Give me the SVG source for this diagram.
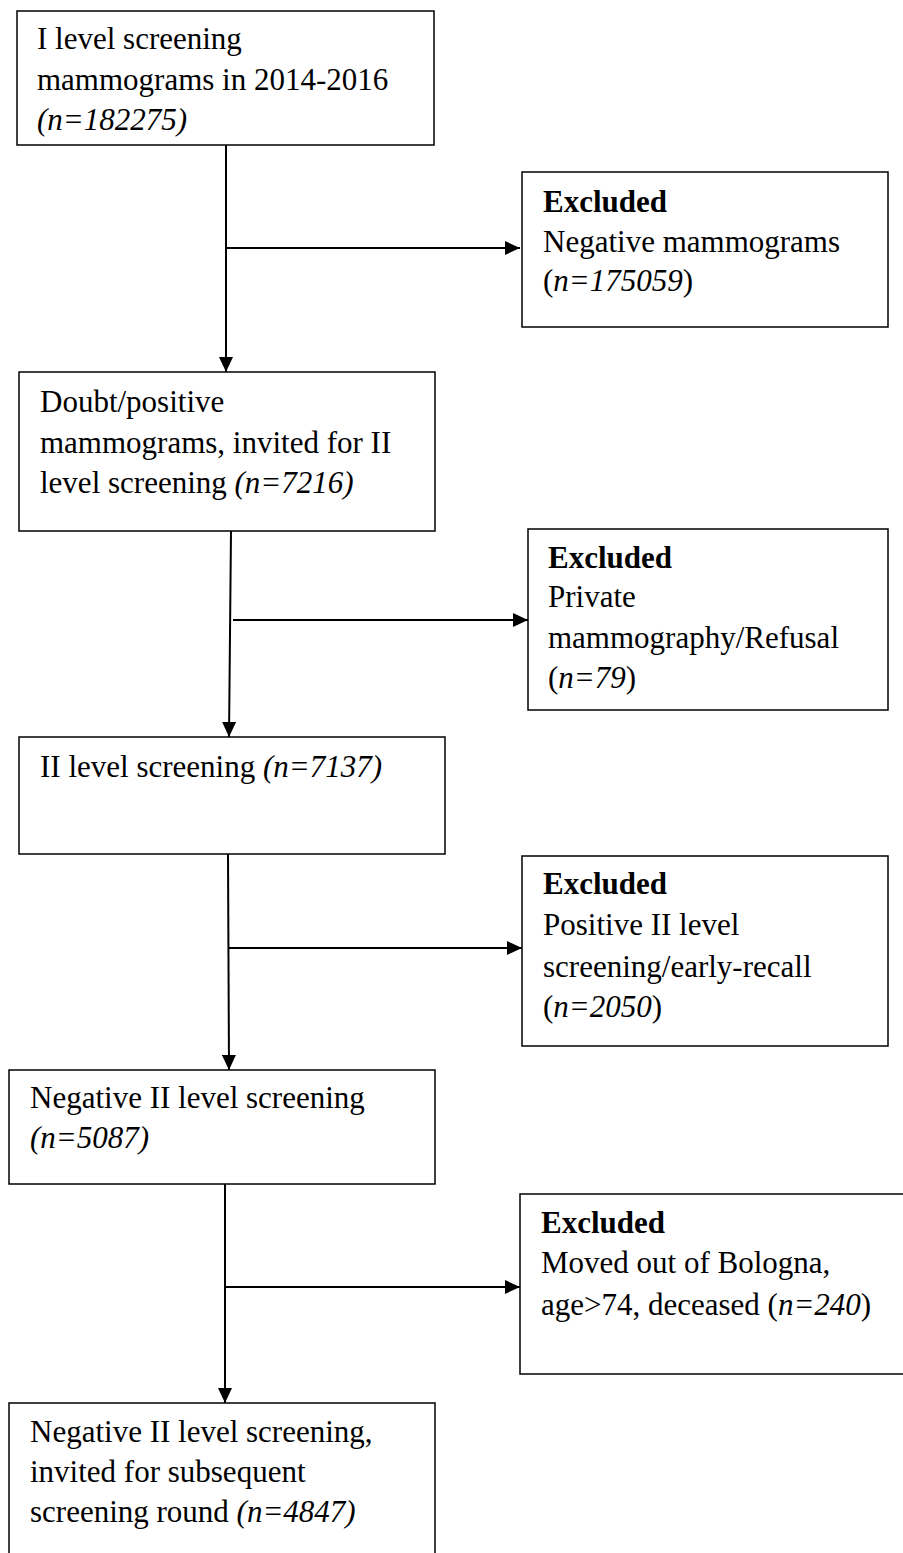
<svg xmlns="http://www.w3.org/2000/svg" width="903" height="1553" viewBox="0 0 903 1553">
<style>
.box{fill:#fff;stroke:#000;stroke-width:1.5}
.t{font-family:"Liberation Serif","Times New Roman",serif;font-size:31px;fill:#000}
.b{font-weight:bold}
.i{font-style:italic}
.c{fill:none;stroke:#000;stroke-width:2}
</style>
<defs>
<marker id="ah" markerWidth="15" markerHeight="14" refX="15" refY="7" orient="auto" markerUnits="userSpaceOnUse">
<path d="M0,0 L15,7 L0,14 Z" fill="#000"/>
</marker>
</defs>
<rect width="903" height="1553" fill="#fff"/>
<g id="connectors">
<line class="c" x1="226" y1="145" x2="226" y2="372" marker-end="url(#ah)"/>
<line class="c" x1="226" y1="248" x2="520" y2="248" marker-end="url(#ah)"/>
<line class="c" x1="231" y1="531" x2="229" y2="737" marker-end="url(#ah)"/>
<line class="c" x1="233" y1="620" x2="528" y2="620" marker-end="url(#ah)"/>
<line class="c" x1="228" y1="854" x2="229" y2="1070" marker-end="url(#ah)"/>
<line class="c" x1="229" y1="948" x2="522" y2="948" marker-end="url(#ah)"/>
<line class="c" x1="225" y1="1184" x2="225" y2="1403" marker-end="url(#ah)"/>
<line class="c" x1="225" y1="1287" x2="520" y2="1287" marker-end="url(#ah)"/>
</g>
<g id="n1">
<rect class="box" x="17" y="11" width="417" height="134"/>
<text class="t" x="37" y="49">I level screening</text>
<text class="t" x="37" y="90">mammograms in 2014-2016</text>
<text class="t i" x="37" y="130">(n=182275)</text>
</g>
<g id="e1">
<rect class="box" x="522" y="172" width="366" height="155"/>
<text class="t b" x="543" y="212">Excluded</text>
<text class="t" x="543" y="252">Negative mammograms</text>
<text class="t" x="543" y="291">(<tspan class="i">n=175059</tspan>)</text>
</g>
<g id="n2">
<rect class="box" x="19" y="372" width="416" height="159"/>
<text class="t" x="40" y="412">Doubt/positive</text>
<text class="t" x="40" y="453">mammograms, invited for II</text>
<text class="t" x="40" y="493">level screening <tspan class="i">(n=7216)</tspan></text>
</g>
<g id="e2">
<rect class="box" x="528" y="529" width="360" height="181"/>
<text class="t b" x="548" y="568">Excluded</text>
<text class="t" x="548" y="607">Private</text>
<text class="t" x="548" y="648">mammography/Refusal</text>
<text class="t" x="548" y="688">(<tspan class="i">n=79</tspan>)</text>
</g>
<g id="n3">
<rect class="box" x="19" y="737" width="426" height="117"/>
<text class="t" x="40" y="777">II level screening <tspan class="i">(n=7137)</tspan></text>
</g>
<g id="e3">
<rect class="box" x="522" y="856" width="366" height="190"/>
<text class="t b" x="543" y="894">Excluded</text>
<text class="t" x="543" y="935">Positive II level</text>
<text class="t" x="543" y="977">screening/early-recall</text>
<text class="t" x="543" y="1017">(<tspan class="i">n=2050</tspan>)</text>
</g>
<g id="n4">
<rect class="box" x="9" y="1070" width="426" height="114"/>
<text class="t" x="30" y="1108">Negative II level screening</text>
<text class="t i" x="30" y="1148">(n=5087)</text>
</g>
<g id="e4">
<rect class="box" x="520" y="1194" width="400" height="180"/>
<text class="t b" x="541" y="1233">Excluded</text>
<text class="t" x="541" y="1273">Moved out of Bologna,</text>
<text class="t" x="541" y="1315">age&gt;74, deceased (<tspan class="i">n=240</tspan>)</text>
</g>
<g id="n5">
<rect class="box" x="9" y="1403" width="426" height="170"/>
<text class="t" x="30" y="1442">Negative II level screening,</text>
<text class="t" x="30" y="1482">invited for subsequent</text>
<text class="t" x="30" y="1522">screening round <tspan class="i">(n=4847)</tspan></text>
</g>
</svg>
